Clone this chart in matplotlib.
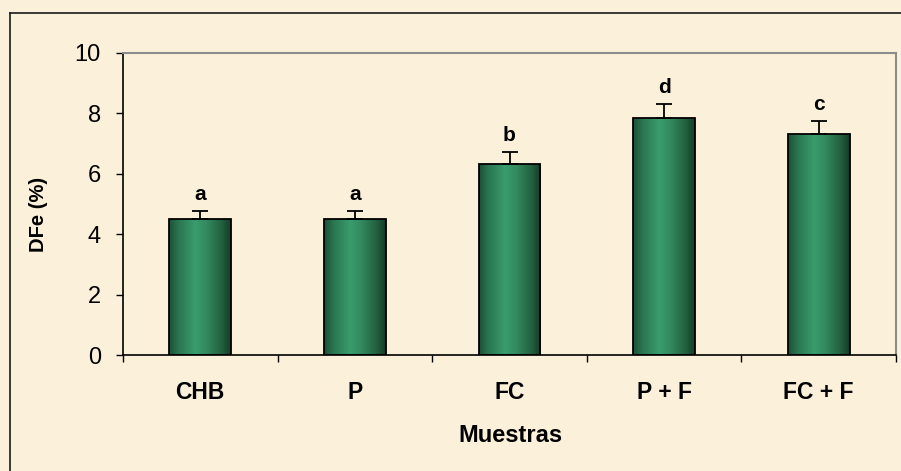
import matplotlib.pyplot as plt
import numpy as np
from matplotlib.colors import LinearSegmentedColormap
from matplotlib.lines import Line2D

plt.rcParams['font.family'] = ['Liberation Sans', 'DejaVu Sans']

muestras = ["CHB", "P", "FC", "P + F", "FC + F"]
dfe = [4.5, 4.5, 6.3, 7.85, 7.3]
err = [0.25, 0.25, 0.4, 0.45, 0.45]
letras = ["a", "a", "b", "d", "c"]

fondo = "#FBF0D9"
verde = LinearSegmentedColormap.from_list(
    "cilindro",
    [(0.0, "#1B5034"), (0.15, "#2A7551"), (0.42, "#3A9C6C"),
     (0.6, "#338A5F"), (0.85, "#22603F"), (1.0, "#163B29")])

fig = plt.figure(figsize=(9.01, 4.71), dpi=100, facecolor=fondo)
ax = fig.add_axes([123/901, 1 - 355/471, 773/901, 302.5/471])
ax.set_facecolor(fondo)

x = np.arange(len(muestras))
ancho = 0.4

# barras con relleno degradado tipo cilindro
barras = ax.bar(x, dfe, width=ancho, facecolor="none", edgecolor="black",
                linewidth=1.3, zorder=3)
grad = np.linspace(0, 1, 256).reshape(1, -1)
for b in barras:
    im = ax.imshow(grad, cmap=verde, aspect="auto", zorder=2,
                   extent=[b.get_x(), b.get_x() + b.get_width(), 0, b.get_height()])
    im.set_clip_path(b)

# solo la parte superior del error
ax.errorbar(x, dfe, yerr=[np.zeros(len(err)), err], fmt="none", ecolor="black",
            elinewidth=1.3, capsize=6, capthick=1.3, zorder=4)

for xi, yi, ei, l in zip(x, dfe, err, letras):
    ax.annotate(l, (xi, yi + ei), xytext=(0, 5), textcoords="offset points",
                ha="center", va="bottom", fontsize=15, fontweight="bold")

ax.set_xlim(-0.5, len(muestras) - 0.5)
ax.set_ylim(0, 10)
ax.set_yticks(np.arange(0, 11, 2))
ax.set_xticks(np.arange(-0.5, len(muestras), 1))
ax.set_xticklabels([])
ax.set_xticks(x, muestras, minor=True)
ax.tick_params(axis="x", which="major", direction="out", length=5, width=1)
ax.tick_params(axis="x", which="minor", length=0, pad=19, labelsize=16.5)
for t in ax.get_xticklabels(minor=True):
    t.set_fontweight("bold")
ax.tick_params(axis="y", direction="out", length=5, width=1, pad=11, labelsize=17)

for s in ["left", "bottom"]:
    ax.spines[s].set_color("black")
    ax.spines[s].set_linewidth(1.2)
for s in ["top", "right"]:
    ax.spines[s].set_color("#8C8C8C")
    ax.spines[s].set_linewidth(1.5)

fig.text(510/901, 1 - 442/471, "Muestras", ha="center", va="baseline",
         fontsize=17, fontweight="bold")
fig.text(38/901, 1 - 214/471, "DFe (%)", ha="center", va="center", rotation=90,
         fontsize=14.5, fontweight="bold")

# marco exterior del grafico
fig.add_artist(Line2D([10/901, 10/901], [0, 1 - 13/471], transform=fig.transFigure,
                      color="#1A1A1A", linewidth=1.2))
fig.add_artist(Line2D([10/901, 1], [1 - 13/471, 1 - 13/471], transform=fig.transFigure,
                      color="#1A1A1A", linewidth=1.2))

fig.savefig("out.png", dpi=100, facecolor=fondo)
